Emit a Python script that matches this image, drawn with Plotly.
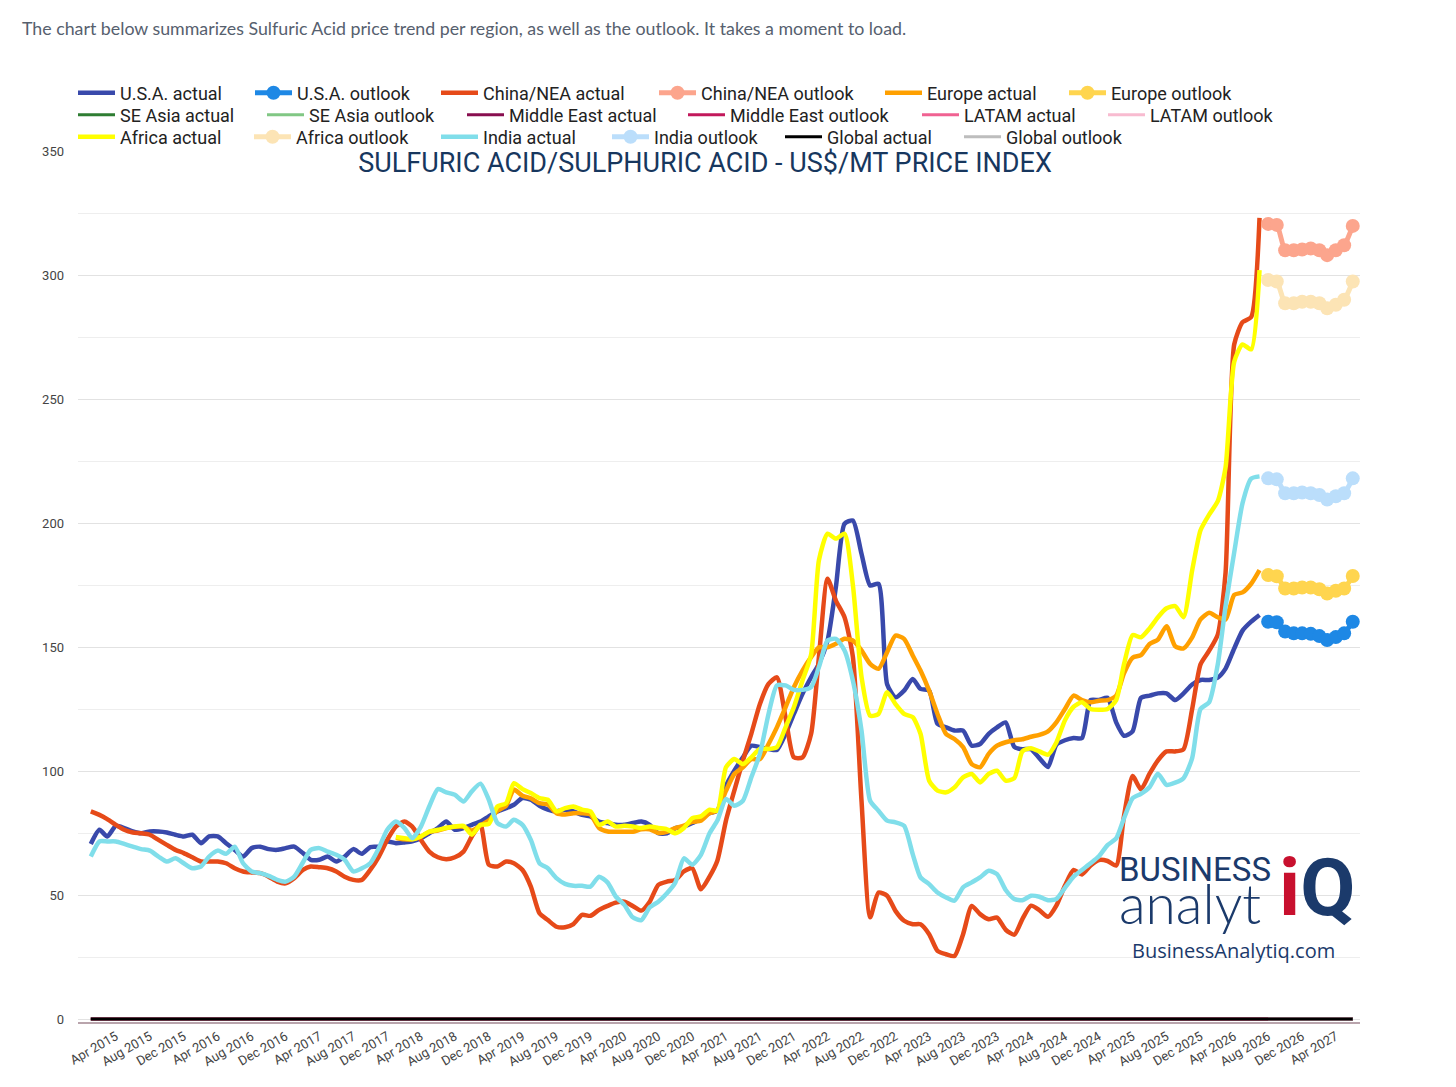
import pandas as pd
import plotly.graph_objects as go


# Monthly index: Jan 2015 .. Jun 2027 (actuals to Jul 2026, outlook after)
months = pd.date_range("2015-01-01", periods=150, freq="MS")
actual_months = months[:139]
outlook_months = months[139:]
late_months = months[36:139]   # Europe and Africa only start in Jan 2018
tick_months = pd.date_range("2015-04-01", "2027-04-01", freq="4MS")

usa_actual = [
    70.6, 76.3, 73.6, 77.9, 77, 75.6, 74.9, 75.6, 75.6, 75.2, 74.3, 73.6,
    74.3, 70.9, 73.6, 73.6, 70.9, 68.2, 65.5, 68.9, 69.5, 68.5, 68.2, 68.9,
    69.5, 66.9, 64.2, 64.2, 65.5, 63.5, 65.5, 68.5, 66.6, 69.3, 69.5, 71.6,
    70.9, 71.2, 71.6, 72.9, 74.9, 77, 79.6, 76.3, 77, 78.3, 79.6, 81.7,
    83.7, 85, 86.4, 89.1, 88.4, 86, 84.4, 83.7, 84.4, 83.7, 82.3, 81.7,
    79.6, 79, 78.3, 78.3, 79, 79.6, 78.3, 74.9, 74.9, 77, 77.6, 79,
    81, 83, 84, 94, 100.1, 105.5, 110.2, 109.6, 108.9, 108.5, 115, 123,
    131.1, 137.8, 143.2, 152.6, 174.2, 199.7, 201, 187.6, 174.8, 175.5, 135, 129.7,
    132.4, 137.1, 133.1, 132.4, 119, 117.6, 116.3, 116.3, 110.2, 110.9, 115, 117.6,
    119.6, 109.7, 108.8, 108.8, 105.2, 101.6, 110.6, 112.4, 113.3, 113.3, 128.6, 128.6,
    129.5, 119.6, 114.2, 116, 129.5, 130.4, 131.3, 131.3, 128.6, 131.3, 134.9, 136.7,
    136.7, 137.7, 141.3, 149.4, 156.6, 160.2, 162.9,
]
china_actual = [
    83.7, 82.3, 80.6, 78.3, 76.3, 75.2, 74.9, 74.3, 72.2, 70.2, 68.2, 66.9,
    65.2, 63.5, 63.5, 63.5, 62.8, 60.8, 59.5, 59.1, 58.8, 57.4, 55.4, 54.7,
    56.8, 60.1, 61.5, 61.2, 60.8, 59.5, 57.4, 56.1, 56.1, 60.1, 65.5, 72.2,
    77.6, 79.6, 77.6, 72.2, 67.5, 65.2, 64.4, 65.2, 67.5, 73.6, 78.3, 62.2,
    61.5, 63.5, 62.8, 60.1, 53.4, 42.6, 39.9, 37.2, 37, 38.3, 42, 41.6,
    44, 45.6, 46.9, 47.3, 45.6, 43.7, 47.3, 54.1, 55.4, 56.1, 59.5, 60.8,
    52.3, 57.4, 63.8, 80, 92.1, 104.2, 115, 127, 135.1, 137.8, 121.7, 105.5,
    105.5, 115, 146, 177.5, 168.7, 162, 146, 88, 41, 51, 49.7, 43.6,
    39.6, 38.2, 38.2, 34.2, 27.5, 26.1, 25.4, 34.2, 45.6, 42.3, 40.2, 40.9,
    36, 34, 40.3, 45.7, 43.9, 41.2, 45.7, 53.8, 60.1, 58.3, 61.9, 64.1,
    63.7, 61.9, 81.8, 98, 92.6, 98.9, 104.3, 107.9, 107.9, 108.8, 125, 143,
    148.5, 155, 180, 272, 281, 283, 323,
]
india_actual = [
    65.5, 71.6, 71.6, 71.6, 70.6, 69.5, 68.5, 67.9, 65.5, 63.5, 64.8, 62.8,
    60.8, 61.5, 65.5, 67.9, 66.6, 69.5, 62.8, 59.5, 58.8, 57.7, 56.1, 55.4,
    57.4, 63.1, 68.2, 68.9, 67.5, 66.2, 64.2, 59.5, 60.8, 62.8, 68.9, 76.3,
    79.6, 77, 72.9, 77.6, 85.7, 92.7, 91.4, 90.4, 87.7, 91.8, 94.9, 88.4,
    79, 77.6, 80.3, 78.3, 72.2, 62.8, 60.8, 56.8, 54.5, 53.7, 53.7, 53.4,
    57.4, 55, 49.4, 46, 41, 39.9, 45, 47.3, 50.7, 55, 64.8, 62.2,
    66.2, 74.9, 80, 88.7, 86, 88, 97.4, 106.9, 123, 134.5, 134.5, 132.7,
    132.7, 133.8, 141.9, 152.6, 153.3, 148.6, 136.5, 116.3, 88, 84, 80, 79.3,
    77.9, 66.5, 57.1, 54.4, 51, 49, 47.7, 53.1, 55.1, 57.1, 59.8, 58.4,
    52, 48.4, 47.9, 49.7, 49.3, 47.9, 48.4, 52.9, 57.4, 60.1, 62.8, 65.6,
    70.1, 72.8, 80.9, 89, 90.8, 93.5, 98.9, 94.4, 95.3, 97.1, 105.2, 125,
    127.7, 143, 166.5, 188.1, 208, 217.9, 218.8,
]
europe_actual = [
    73, 72.5, 72.5, 73.5, 75.5, 76, 77, 77.5, 77.5, 76, 78, 80,
    84, 86, 92.5, 90, 89, 87, 86.5, 83, 82.5, 83, 83, 82.5,
    77, 75.6, 75.5, 75.5, 75.5, 76.5, 76.5, 75, 75.5, 77, 78, 79.5,
    80, 83, 84, 92, 98.8, 101.5, 104.8, 104.8, 110.9, 117.6, 125.7, 133.8,
    140.5, 145.9, 149.9, 149.9, 151.3, 153.3, 152.6, 148.6, 143.2, 141.2, 147.9, 154.6,
    153.3, 146.6, 140.5, 132.4, 123, 114.9, 112.9, 109.6, 102.8, 101.5, 106.9, 110.2,
    111.6, 112.4, 112.8, 113.8, 114.6, 116, 119.6, 125, 130.4, 128.6, 127.7, 128.3,
    128.6, 130.4, 139.4, 145.7, 146.7, 151.2, 153, 158.4, 150.3, 149.4, 153.9, 161.1,
    163.8, 162, 161.1, 171, 172, 175.5, 181,
]
africa_actual = [
    73.4, 72.9, 72.5, 73.6, 75.6, 76.3, 77, 77.6, 77.9, 74.3, 78.3, 78.7,
    85.7, 87, 95.1, 92.7, 91.1, 89.1, 88.4, 83.7, 85, 85.7, 84.4, 83.7,
    78.3, 79.6, 77.6, 77.9, 77.6, 77, 77.6, 77, 76.5, 74.9, 77, 81,
    81.7, 84.4, 84, 101.5, 104.8, 102.8, 105.5, 108.9, 108.9, 109.6, 117.6, 125.7,
    136.5, 147, 185, 195.7, 193.7, 195.7, 175, 138, 122.3, 123, 131.8, 127,
    123, 121.7, 115, 96.1, 92.1, 91.4, 93.4, 97.4, 98.8, 95.4, 98.8, 100.1,
    96.1, 97.1, 107.9, 109.2, 107.9, 106.6, 111.5, 120.5, 125.9, 127.7, 125, 124.7,
    125, 128.6, 143, 154.8, 153.9, 157.5, 162, 165.6, 166.5, 162, 180.9, 197.1,
    203.4, 208.8, 222.4, 265, 272, 270, 302,
]

usa_outlook = [160.2, 160, 156.2, 155.5, 155.5, 155.3, 154.4, 152.8, 154, 155.5, 160.2]
china_outlook = [320.6, 320.2, 310, 310, 310.3, 310.7, 310, 308, 310, 312, 319.8]
europe_outlook = [179, 178.5, 173.6, 173.6, 174, 174, 173.3, 171.6, 172.7, 173.6, 178.6]
africa_outlook = [298, 297.4, 288.6, 288.6, 289.2, 289.2, 288.6, 286.6, 288, 290, 297.4]
india_outlook = [218, 217.6, 212, 212, 212.3, 212, 211.3, 209.5, 210.8, 212, 218]

# SE Asia, Middle East, LATAM and Global sit flat on zero in the chart
zero_all = [0] * len(months)
zero_outlook = [0] * len(outlook_months)

y_ticks = [0, 50, 100, 150, 200, 250, 300, 350]

# (name, x, y, colour, outlook?) in legend order
series = [
    ("U.S.A. actual", actual_months, usa_actual, "#3949AB", False),
    ("U.S.A. outlook", outlook_months, usa_outlook, "#1E88E5", True),
    ("China/NEA actual", actual_months, china_actual, "#E64A19", False),
    ("China/NEA outlook", outlook_months, china_outlook, "#FCA58D", True),
    ("Europe actual", late_months, europe_actual, "#FFA000", False),
    ("Europe outlook", outlook_months, europe_outlook, "#FFD54F", True),
    ("SE Asia actual", months, zero_all, "#2E7D32", False),
    ("SE Asia outlook", outlook_months, zero_outlook, "#81C784", False),
    ("Middle East actual", months, zero_all, "#880E4F", False),
    ("Middle East outlook", outlook_months, zero_outlook, "#C2185B", False),
    ("LATAM actual", months, zero_all, "#F06292", False),
    ("LATAM outlook", outlook_months, zero_outlook, "#F8BBD0", False),
    ("Africa actual", late_months, africa_actual, "#FFFF00", False),
    ("Africa outlook", outlook_months, africa_outlook, "#FCE4B5", True),
    ("India actual", actual_months, india_actual, "#80DEEA", False),
    ("India outlook", outlook_months, india_outlook, "#BBDEFB", True),
    ("Global actual", months, zero_all, "#000000", False),
    ("Global outlook", outlook_months, zero_outlook, "#BDBDBD", False),
]
# Global actual is painted last so the black zero line sits on top
draw_order = [i for i in range(len(series)) if i != 16] + [16]

# Legend symbol start and row centre, in page pixels; one legend per entry
legend_spots = [
    (78, 93), (255, 93), (441, 93), (659, 93), (885, 93), (1069, 93),
    (78, 115), (267, 115), (467, 115), (688, 115), (922, 115), (1108, 115),
    (78, 137), (254, 137), (441, 137), (612, 137), (785, 137), (964, 137),
]
SYMBOL_W = 37

# The page puts the figure 8px in from the top-left corner
OFF = 8
W, H = 1456 - OFF, 1087 - OFF
PLOT_L, PLOT_R, PLOT_T, PLOT_B = 78 - OFF, 1360 - OFF, 151 - OFF, 1022 - OFF


def paper_x(px):
    return (px - OFF - PLOT_L) / (PLOT_R - PLOT_L)


def paper_y(py):
    return (PLOT_B - (py - OFF)) / (PLOT_B - PLOT_T)


fig = go.Figure()
layout_legends = {}

for i in draw_order:
    name, x, y, color, outlook = series[i]
    leg = "legend" if i == 0 else f"legend{i + 1}"
    zero_line = name.split()[0] in ("SE", "Middle", "LATAM", "Global")
    fig.add_trace(go.Scatter(
        name=name,
        x=x,
        y=y,
        mode="lines+markers" if outlook else "lines",
        line=dict(color=color, width=3 if zero_line else (5 if outlook else 4.5),
                  shape="spline", smoothing=0.6),
        marker=dict(size=14, color=color),
        legend=leg,
        showlegend=True,
        hovertemplate=name + ": %{y:.1f}<extra></extra>",
    ))
    sx, sy = legend_spots[i]
    layout_legends[leg] = dict(
        x=paper_x(sx - 5), y=paper_y(sy),
        xanchor="left", yanchor="middle",
        orientation="h",
        itemwidth=SYMBOL_W,
        bgcolor="rgba(0,0,0,0)",
        font=dict(family="Roboto", size=18, color="#222222"),
    )

fig.update_layout(
    width=W,
    height=H,
    template="plotly_white",
    showlegend=True,
    paper_bgcolor="white",
    plot_bgcolor="white",
    margin=dict(l=PLOT_L, r=W - PLOT_R, t=PLOT_T, b=H - PLOT_B, autoexpand=False),
    title=dict(
        text="SULFURIC ACID/SULPHURIC ACID - US$/MT PRICE INDEX",
        x=(705 - OFF) / W, xanchor="center",
        y=1 - (163 - OFF) / H, yanchor="middle",
        font=dict(family="Roboto", size=27, color="#17375E"),
    ),
    hovermode="closest",
    **layout_legends,
)

fig.update_xaxes(
    type="date",
    range=["2014-11-16", "2027-06-27"],
    tickvals=tick_months,
    tickformat="%b %Y",
    tickangle=-30,
    tickfont=dict(family="Roboto", size=13, color="#444444"),
    showgrid=False,
    showline=True,
    linecolor="#B9A4AC",
    linewidth=2,
    zeroline=False,
)

fig.update_yaxes(
    range=[-1.21, 350],
    tickvals=y_ticks,
    tickfont=dict(family="Roboto", size=13, color="#444444"),
    ticklabelstandoff=13,
    gridcolor="#E2E2E2",
    gridwidth=1,
    minor=dict(dtick=25, tick0=0, showgrid=True, gridcolor="#EEEEEE"),
    zeroline=False,
    showline=False,
)

# Intro sentence above the chart
fig.add_annotation(
    text="The chart below summarizes Sulfuric Acid price trend per region, as well as the outlook. It takes a moment to load.",
    xref="paper", yref="paper",
    x=paper_x(20), y=paper_y(28),
    xanchor="left", yanchor="middle",
    showarrow=False,
    font=dict(family="Lato", size=17.8, color="#56606E"),
)

# BusinessAnalytiq logo block
navy = "#1B3A6B"
fig.add_annotation(
    text="BUSINESS<br><span style='font-family:Lato;font-size:55px;font-weight:300'>analyt</span>",
    xref="paper", yref="paper",
    x=paper_x(1117), y=paper_y(893), xanchor="left", yanchor="middle",
    align="left", showarrow=False,
    font=dict(family="Roboto", size=33, color=navy),
)
fig.add_annotation(text="<b><span style='color:#C8102E'>i</span>Q</b>", xref="paper", yref="paper",
                   x=paper_x(1277), y=paper_y(888), xanchor="left", yanchor="middle",
                   showarrow=False,
                   font=dict(family="Roboto", size=80, color=navy))
fig.add_annotation(text="BusinessAnalytiq.com", xref="paper", yref="paper",
                   x=paper_x(1233), y=paper_y(950), xanchor="center", yanchor="middle",
                   showarrow=False,
                   font=dict(family="Open Sans", size=20, color=navy))

fig.write_html("out.html")
